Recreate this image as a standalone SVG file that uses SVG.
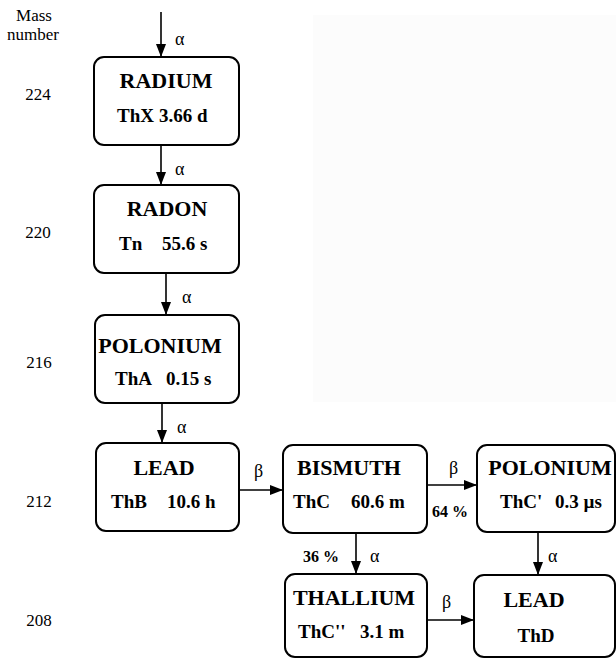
<svg xmlns="http://www.w3.org/2000/svg" width="616" height="659" viewBox="0 0 616 659">
<style>
.box{fill:#fff;stroke:#000;stroke-width:2}
.t{font-family:"Liberation Serif","Times New Roman",serif;font-weight:bold;font-size:22px;fill:#000;text-anchor:middle}
.s{font-family:"Liberation Serif","Times New Roman",serif;font-weight:bold;font-size:19px;fill:#000}
.m{font-family:"Liberation Serif","Times New Roman",serif;font-size:17px;fill:#000;text-anchor:middle}
.g{font-family:"Liberation Serif","Times New Roman",serif;font-size:18px;fill:#000}
.p{font-family:"Liberation Serif","Times New Roman",serif;font-weight:bold;font-size:16px;fill:#000}
.c{stroke:#000;stroke-width:1.6;fill:none;marker-end:url(#ah)}
</style>
<defs>
<marker id="ah" viewBox="0 0 13 10" refX="13" refY="5" markerWidth="13" markerHeight="10" markerUnits="userSpaceOnUse" orient="auto">
<path d="M0,0 L13,5 L0,10 z" fill="#000"/>
</marker>
</defs>
<rect x="313" y="15" width="303" height="387" fill="#fcfcfc"/>
<g id="mass-labels">
<text class="m" x="34" y="21">Mass</text>
<text class="m" x="33" y="40">number</text>
<text class="m" x="38" y="100">224</text>
<text class="m" x="38" y="238">220</text>
<text class="m" x="39" y="368">216</text>
<text class="m" x="39" y="507">212</text>
<text class="m" x="39" y="626">208</text>
</g>
<g id="connectors">
<line class="c" x1="161" y1="12" x2="161" y2="57"/>
<text class="g" x="175" y="45">α</text>
<line class="c" x1="161" y1="145" x2="161" y2="185"/>
<text class="g" x="175" y="175">α</text>
<line class="c" x1="166" y1="273" x2="166" y2="315"/>
<text class="g" x="182" y="303">α</text>
<line class="c" x1="162" y1="403" x2="162" y2="443"/>
<text class="g" x="177" y="433">α</text>
<line class="c" x1="239" y1="490" x2="283" y2="490"/>
<text class="g" x="254" y="477">β</text>
<line class="c" x1="427" y1="485" x2="477" y2="485"/>
<text class="g" x="449" y="474">β</text>
<text class="p" x="432" y="517">64 %</text>
<line class="c" x1="356" y1="533" x2="356" y2="574"/>
<text class="p" x="303" y="562">36 %</text>
<text class="g" x="370" y="562">α</text>
<line class="c" x1="538" y1="532" x2="538" y2="575"/>
<text class="g" x="548" y="562">α</text>
<line class="c" x1="427" y1="620" x2="474" y2="620"/>
<text class="g" x="442" y="608">β</text>
</g>
<g id="radium">
<rect class="box" x="94" y="57" width="145" height="88" rx="10"/>
<text class="t" x="166" y="88">RADIUM</text>
<text class="s" y="122"><tspan x="117">ThX</tspan><tspan x="159">3.66 d</tspan></text>
</g>
<g id="radon">
<rect class="box" x="94" y="185" width="145" height="88" rx="10"/>
<text class="t" x="167" y="216">RADON</text>
<text class="s" y="250"><tspan x="119">Tn</tspan><tspan x="162">55.6 s</tspan></text>
</g>
<g id="polonium216">
<rect class="box" x="95" y="315" width="144" height="88" rx="10"/>
<text class="t" x="160" y="353">POLONIUM</text>
<text class="s" y="385"><tspan x="115">ThA</tspan><tspan x="166">0.15 s</tspan></text>
</g>
<g id="lead212">
<rect class="box" x="96" y="443" width="143" height="88" rx="10"/>
<text class="t" x="164" y="475">LEAD</text>
<text class="s" y="508"><tspan x="111">ThB</tspan><tspan x="167">10.6 h</tspan></text>
</g>
<g id="bismuth">
<rect class="box" x="283" y="445" width="144" height="88" rx="10"/>
<text class="t" x="349" y="475">BISMUTH</text>
<text class="s" y="508"><tspan x="293">ThC</tspan><tspan x="351">60.6 m</tspan></text>
</g>
<g id="polonium212">
<rect class="box" x="477" y="445" width="138" height="87" rx="10"/>
<text class="t" x="550" y="475">POLONIUM</text>
<text class="s" y="508"><tspan x="500">ThC'</tspan><tspan x="555">0.3 µs</tspan></text>
</g>
<g id="thallium">
<rect class="box" x="285" y="574" width="142" height="83" rx="10"/>
<text class="t" x="354" y="605">THALLIUM</text>
<text class="s" y="638"><tspan x="298">ThC''</tspan><tspan x="360">3.1 m</tspan></text>
</g>
<g id="lead208">
<rect class="box" x="474" y="575" width="141" height="82" rx="10"/>
<text class="t" x="534" y="607">LEAD</text>
<text class="s" x="536" y="642" text-anchor="middle">ThD</text>
</g>
</svg>
